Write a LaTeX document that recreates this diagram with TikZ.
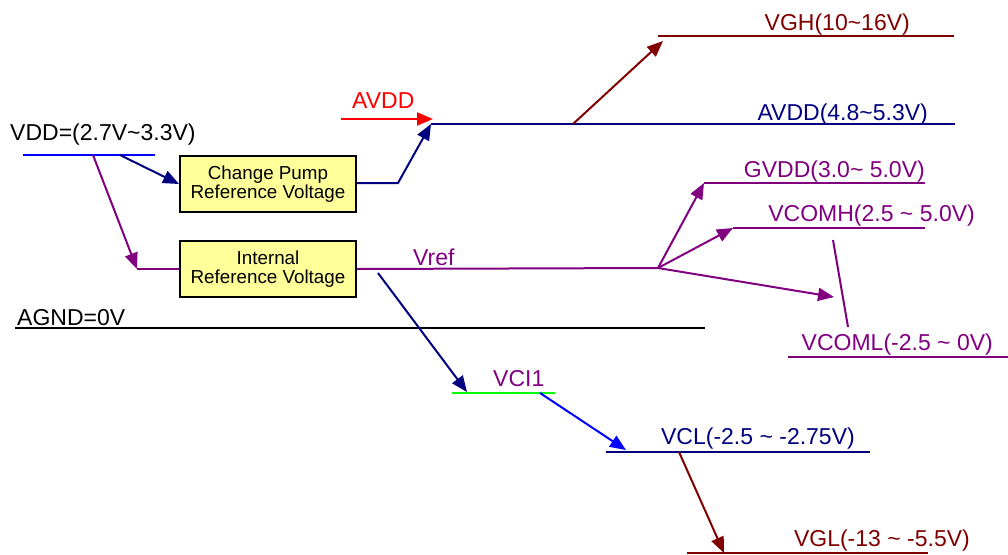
\documentclass[tikz,border=0pt]{standalone}
\usepackage{fontspec}
\setmainfont{Liberation Sans}
\usetikzlibrary{arrows.meta}
\definecolor{cnavy}{RGB}{0,0,128}
\definecolor{cdred}{RGB}{128,0,0}
\definecolor{cpurp}{RGB}{128,0,128}
\definecolor{cred}{RGB}{255,0,0}
\definecolor{cblue}{RGB}{0,0,255}
\definecolor{cgreen}{RGB}{0,255,0}
\definecolor{cyel}{RGB}{255,255,153}
\tikzset{
  wire/.style={line width=2pt},
  arr/.style={wire,-{Triangle[length=16pt,width=13pt]}},
  lbl/.style={inner sep=0pt,font=\fontsize{23}{27}\selectfont},
  blk/.style={draw=black,line width=2pt,fill=cyel,align=center,inner sep=0pt,
    minimum width=176pt,minimum height=56pt,font=\fontsize{18.8}{21.5}\selectfont},
}
\begin{document}
\begin{tikzpicture}[x=1pt,y=-1pt]
\useasboundingbox (0,0) rectangle (1008,554);
% blocks
\node[blk] (cp) at (268,184) {\raisebox{-2pt}{Change Pump}\\Reference Voltage};
\node[blk] (irv) at (268,269) {\raisebox{-2pt}{Internal}\\Reference Voltage};
% VDD
\coordinate (vddL) at (23,155); \coordinate (vddR) at (155,155);
\draw[wire,cblue] (vddL) -- (vddR);
\node[lbl,anchor=base west] (vddT) at (10,140) {VDD=(2.7V\char`\~3.3V)};
\coordinate (vddA) at (120,155);
\draw[arr,cnavy] (vddA) -- (cp.west);
\coordinate (vddB) at (93,155);
\coordinate (irvIn) at (137,269);
\draw[arr,cpurp] (vddB) -- (irvIn);
\draw[wire,cpurp] (irvIn) -- (irv.west);
% AVDD
\coordinate (cpK) at (398,183); \coordinate (avddL) at (431,124);
\draw[arr,cnavy] (cp.east |- cpK) -- (cpK) -- (avddL);
\coordinate (redL) at (341,119); \coordinate (redR) at (433,119);
\draw[arr,cred] (redL) -- (redR);
\node[lbl,anchor=base west,text=cred] (avddT) at (352,108) {AVDD};
\coordinate (avddR) at (955,124);
\draw[wire,cnavy] (avddL) -- (avddR);
\node[lbl,anchor=base east,text=cnavy] (avddV) at (928,120) {AVDD(4.8\char`\~5.3V)};
% VGH
\coordinate (vghA) at (573,124); \coordinate (vghTip) at (663,41);
\coordinate (vghL) at (658,36); \coordinate (vghR) at (954,36);
\draw[arr,cdred] (vghA) -- (vghTip);
\draw[wire,cdred] (vghL) -- (vghR);
\node[lbl,anchor=base east,text=cdred] (vghT) at (910,30) {VGH(10\char`\~16V)};
% Vref
\coordinate (vrefE) at (658,268);
\draw[wire,cpurp] (irv.east) -- (vrefE);
\node[lbl,anchor=base west,text=cpurp] (vrefT) at (413,265) {Vref};
\coordinate (gvddL) at (704,183); \coordinate (gvddR) at (925,183);
\draw[arr,cpurp] (vrefE) -- (gvddL);
\draw[wire,cpurp] (gvddL) -- (gvddR);
\node[lbl,anchor=base east,text=cpurp] (gvddT) at (925,177) {GVDD(3.0\char`\~{} 5.0V)};
\coordinate (vcomhL) at (733,228); \coordinate (vcomhR) at (925,228);
\draw[arr,cpurp] (vrefE) -- (vcomhL);
\draw[wire,cpurp] (vcomhL) -- (vcomhR);
\node[lbl,anchor=base east,text=cpurp] (vcomhT) at (975,221) {VCOMH(2.5 \char`\~{} 5.0V)};
\coordinate (vcomlTip) at (834,297);
\draw[arr,cpurp] (vrefE) -- (vcomlTip);
\coordinate (sepA) at (833,240); \coordinate (sepB) at (848,327);
\draw[wire,cpurp] (sepA) -- (sepB);
\coordinate (vcomlL) at (788,357); \coordinate (vcomlR) at (1008,357);
\draw[wire,cpurp] (vcomlL) -- (vcomlR);
\node[lbl,anchor=base east,text=cpurp] (vcomlT) at (993,350) {VCOML(-2.5 \char`\~{} 0V)};
% AGND
\coordinate (agndL) at (15,328); \coordinate (agndR) at (705,328);
\draw[wire,black] (agndL) -- (agndR);
\node[lbl,anchor=base west] (agndT) at (17,325) {AGND=0V};
% VCI1
\coordinate (vciS) at (378,273); \coordinate (vciTip) at (467,392);
\draw[arr,cnavy] (vciS) -- (vciTip);
\coordinate (vciL) at (452,393); \coordinate (vciR) at (555,393);
\draw[wire,cgreen] (vciL) -- (vciR);
\node[lbl,anchor=base west,text=cpurp] (vciT) at (493,386) {VCI1};
% VCL
\coordinate (vciA) at (540,393); \coordinate (vclTip) at (626,450);
\draw[arr,cblue] (vciA) -- (vclTip);
\coordinate (vclL) at (606,452); \coordinate (vclR) at (870,452);
\draw[wire,cnavy] (vclL) -- (vclR);
\node[lbl,anchor=base east,text=cnavy] (vclT) at (855,444) {VCL(-2.5 \char`\~{} -2.75V)};
% VGL
\coordinate (vclA) at (679,452); \coordinate (vglTip) at (724,553);
\draw[arr,cdred] (vclA) -- (vglTip);
\coordinate (vglL) at (687,553); \coordinate (vglR) at (928,553);
\draw[wire,cdred] (vglL) -- (vglR);
\node[lbl,anchor=base east,text=cdred] (vglT) at (970,546) {VGL(-13 \char`\~{} -5.5V)};
\end{tikzpicture}
\end{document}
